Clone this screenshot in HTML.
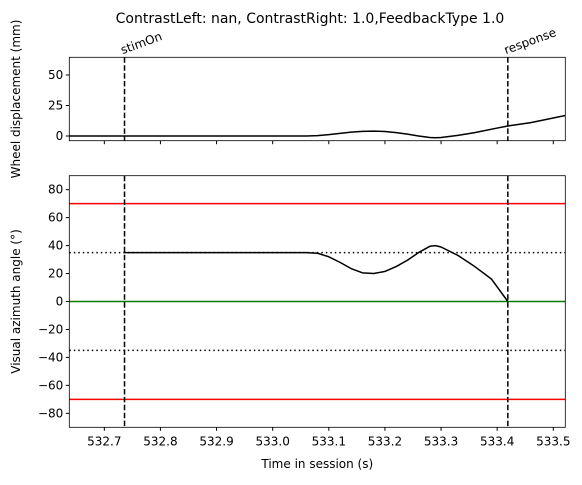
<!DOCTYPE html>
<html><head><meta charset="utf-8"><style>
body{margin:0;background:#fff}
svg text{font-family:"DejaVu Sans","Liberation Sans",sans-serif;font-size:12px;fill:#000}
</style></head><body>
<svg id="c" width="582" height="480" xmlns="http://www.w3.org/2000/svg"></svg>
<script>
const times=[532.6376,532.8,533.0,533.06,533.08,533.10,533.12,533.14,533.16,533.18,533.20,533.22,533.24,533.26,533.28,533.29,533.30,533.33,533.36,533.40,533.42,533.46,533.5214];
const wheel=[0,0,0,0,0.3,1.1,2.2,3.2,3.8,4.0,3.7,2.8,1.5,0.0,-1.2,-1.4,-1.2,0.5,2.8,6.5,8.3,11,16.8];
const azTimes=[532.736,532.8,533.0,533.06,533.08,533.10,533.12,533.14,533.16,533.18,533.20,533.22,533.24,533.26,533.28,533.29,533.30,533.33,533.36,533.39,533.419];
const azimuth=[35,35,35,35,34.5,32,28,23.5,20.5,20,21.5,25,29.5,35,39.5,40,39,33,25,16,0];
const xTicks=[532.7,532.8,532.9,533.0,533.1,533.2,533.3,533.4,533.5];
const wheelTicks=[0,25,50];
const azTicks=[-80,-60,-40,-20,0,20,40,60,80];
const events=[{t:532.736,label:"stimOn"},{t:533.419,label:"response"}];
const thresholds=[{v:70,c:"red",d:""},{v:-70,c:"red",d:""},{v:35,c:"#000",d:"1.5,3"},{v:-35,c:"#000",d:"1.5,3"},{v:0,c:"green",d:""}];

const L=69.3,R=565.3,x0=532.6376,x1=533.5214;
const X=t=>L+(t-x0)/(x1-x0)*(R-L);
const T1=57.3,B1=140.7,w0=-3.85,w1=64.5;
const Y1=v=>B1-(v-w0)/(w1-w0)*(B1-T1);
const T2=175.7,B2=427.3;
const Y2=v=>B2-(v+90)/180*(B2-T2);
const svg=document.getElementById('c');
const NS='http://www.w3.org/2000/svg';
function mk(tag,at,name,txt){const e=document.createElementNS(NS,tag);for(const k in at)e.setAttribute(k,at[k]);


if(txt!==undefined)e.textContent=txt;svg.appendChild(e);return e;}
mk('text',{x:310,y:23,'text-anchor':'middle'},'chart-title',"ContrastLeft: nan, ContrastRight: 1.0,FeedbackType 1.0").setAttribute('style','font-size:14px');
wheelTicks.forEach(v=>{const y=Y1(v);mk('line',{x1:L-3.5,x2:L,y1:y,y2:y,stroke:'#000'},'wheel-y-tick');
mk('text',{x:L-6,y:y+4,'text-anchor':'end'},'wheel-y-tick-label',v);});
xTicks.forEach(t=>{mk('line',{x1:X(t),x2:X(t),y1:B1,y2:B1+3.5,stroke:'#000'},'wheel-x-tick');});
mk('polyline',{points:times.map((t,i)=>X(t)+','+Y1(wheel[i])).join(' '),fill:'none',stroke:'#000','stroke-width':1.5,'stroke-linejoin':'round'},'wheel-line');
events.forEach(e=>{mk('line',{x1:X(e.t),x2:X(e.t),y1:T1,y2:B1,stroke:'#000','stroke-width':1.5,'stroke-dasharray':'5.5,2.4'},'event-line-top');
mk('text',{x:X(e.t)-2,y:T1-3,transform:`rotate(-20 ${X(e.t)-2} ${T1-3})`},'event-label-'+e.label,e.label);});
mk('rect',{x:L,y:T1,width:R-L,height:B1-T1,fill:'none',stroke:'#000','stroke-width':0.8},'wheel-axes-frame');
mk('text',{x:20,y:(T1+B1)/2,transform:`rotate(-90 20 ${(T1+B1)/2})`,'text-anchor':'middle'},'wheel-y-axis-title',"Wheel displacement (mm)");
thresholds.forEach(h=>{const a={x1:L,x2:R,y1:Y2(h.v),y2:Y2(h.v),stroke:h.c,'stroke-width':1.5};if(h.d)a['stroke-dasharray']=h.d;mk('line',a,'threshold-line');});
events.forEach(e=>{mk('line',{x1:X(e.t),x2:X(e.t),y1:T2,y2:B2,stroke:'#000','stroke-width':1.5,'stroke-dasharray':'5.5,2.4'},'event-line-bottom');});
mk('polyline',{points:azTimes.map((t,i)=>X(t)+','+Y2(azimuth[i])).join(' '),fill:'none',stroke:'#000','stroke-width':1.5,'stroke-linejoin':'round'},'azimuth-line');
azTicks.forEach(v=>{const y=Y2(v);mk('line',{x1:L-3.5,x2:L,y1:y,y2:y,stroke:'#000'},'az-y-tick');
mk('text',{x:L-6,y:y+4,'text-anchor':'end'},'az-y-tick-label',(v<0?'\u2212'+(-v):v));});
xTicks.forEach(t=>{mk('line',{x1:X(t),x2:X(t),y1:B2,y2:B2+3.5,stroke:'#000'},'x-tick');
mk('text',{x:X(t),y:B2+18,'text-anchor':'middle'},'x-tick-label',t.toFixed(1));});
mk('rect',{x:L,y:T2,width:R-L,height:B2-T2,fill:'none',stroke:'#000','stroke-width':0.8},'azimuth-axes-frame');
mk('text',{x:20,y:(T2+B2)/2,transform:`rotate(-90 20 ${(T2+B2)/2})`,'text-anchor':'middle'},'azimuth-y-axis-title',"Visual azimuth angle (°)");
mk('text',{x:(L+R)/2,y:468,'text-anchor':'middle'},'x-axis-title',"Time in session (s)");
</script>
</body></html>
